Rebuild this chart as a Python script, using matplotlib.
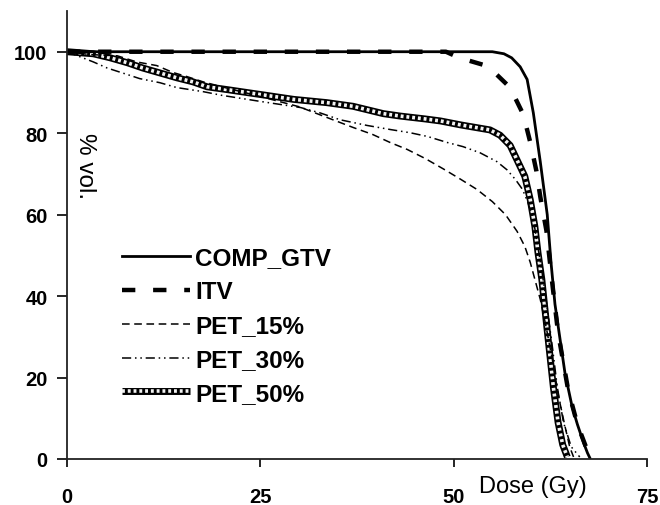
import matplotlib
matplotlib.use("Agg")
import matplotlib.pyplot as plt
from matplotlib.legend_handler import HandlerTuple

plt.rcParams['font.family'] = ['Liberation Sans', 'DejaVu Sans']

# ---- data ----
comp_dose = [0, 55, 56.5, 57.5, 58.6, 59.5, 60.3, 61.2, 62.1, 62.6, 63.1, 64.4, 65.3, 66, 66.8, 67.3, 67.6]
comp_vol = [100, 100, 99.5, 98.5, 96.3, 93.2, 85, 73, 60, 48, 38, 21, 13, 8.5, 4, 1.5, 0.3]

itv_dose = [0, 49, 50.4, 52, 53.8, 55.5, 57.3, 59, 59.9, 60.7, 61.2, 62, 62.7, 63.5, 64.8, 66, 67.1, 67.7]
itv_vol = [100, 100, 98.8, 97.8, 96.8, 94.5, 91.2, 84.6, 77.8, 70.7, 64.4, 56, 44, 31, 17, 8.5, 3, 0.3]

pet15_dose = [0, 3, 6.5, 9, 11.6, 13.7, 15.5, 17.6, 20, 25, 30, 33, 37, 39.5, 41.8, 44, 46.3, 48.6,
              50.8, 53, 55, 56.7, 58.2, 59.2, 59.9, 60.5, 61.2, 62, 62.8, 63.6, 64.4, 65.0, 65.5]
pet15_vol = [100, 99.3, 99, 97.5, 96.6, 94.9, 93.9, 92.6, 91.4, 89, 86.5, 84.3, 81.4, 79.7, 77.7, 76, 73.8, 71.3,
             68.8, 66.2, 63.2, 60, 55.9, 52.2, 48.3, 44.1, 39.2, 32, 24, 15, 8, 3, 0.5]

pet30_dose = [0, 3.4, 5.2, 7.8, 9.4, 12, 14.2, 17.6, 20, 25, 30.2, 32.7, 35.3, 38.8, 41.8, 44.4, 46.6, 49.2,
              51.2, 53.4, 55.6, 56.9, 58, 58.9, 59.6, 60.3, 60.9, 61.5, 62.1, 62.8, 63.4, 64.2, 65.2, 66.3]
pet30_vol = [100, 97.5, 96, 94.4, 93.4, 92.4, 91.2, 90.2, 89.3, 87.8, 86.3, 85, 83.3, 81.9, 80.9, 80.1, 79.2, 77.7,
             76.7, 75.2, 73, 71, 68.6, 66.2, 63, 58.8, 52, 45, 37, 27, 17.6, 9, 3, 0.5]

pet50_dose = [0, 3.4, 5.6, 7.8, 9.8, 12, 14.2, 16.3, 18.1, 20.7, 25, 29.3, 33.6, 37, 40.9, 43.1, 46.3, 48.3,
              51, 54.7, 56, 57.3, 58.3, 59.2, 59.9, 60.5, 60.9, 61.4, 61.8, 62.3, 62.9, 63.5, 64.1, 64.7]
pet50_vol = [100, 99.5, 98.5, 97.3, 96, 94.8, 93.6, 92.6, 91.4, 90.7, 89.5, 88.3, 87.5, 86.6, 84.8, 84.2, 83.5, 83,
             82, 80.8, 79.5, 77, 73, 69.4, 63.7, 57.1, 50.7, 44.1, 36.8, 28, 17.5, 9, 3.5, 0.5]

x_ticks = [0, 25, 50, 75]
y_ticks = [0, 20, 40, 60, 80, 100]
labels = ['COMP_GTV', 'ITV', 'PET_15%', 'PET_30%', 'PET_50%']

# ---- figure ----
fig = plt.figure(figsize=(6.6, 5.06), dpi=100)
ax = fig.add_axes([67/660, 46/506, 580/660, 448/506])

h50a, = ax.plot(pet50_dose, pet50_vol, color='black', lw=5.0, solid_capstyle='butt')
h50b, = ax.plot(pet50_dose, pet50_vol, color='#f2f2f2', lw=2.6, linestyle=(0, (0.8, 0.8)))
h30, = ax.plot(pet30_dose, pet30_vol, color='black', lw=1.1, linestyle=(0, (6, 2.5, 1, 2.5, 1, 2.5)))
h15, = ax.plot(pet15_dose, pet15_vol, color='black', lw=1.1, linestyle=(0, (5, 3)))
hitv, = ax.plot(itv_dose, itv_vol, color='black', lw=3.2, linestyle=(0, (3, 4)))
hcomp, = ax.plot(comp_dose, comp_vol, color='black', lw=2.0)

ax.set_xlim(0, 75)
ax.set_ylim(0, 110)
ax.set_xticks(x_ticks)
ax.set_yticks(y_ticks)
for s in ['top', 'right']:
    ax.spines[s].set_visible(False)
for s in ['left', 'bottom']:
    ax.spines[s].set_linewidth(1.3)
    ax.spines[s].set_color('#222222')
ax.tick_params(axis='y', direction='out', length=7, width=1.2, pad=7, labelsize=14.5)
ax.tick_params(axis='x', direction='out', length=6, width=1.2, pad=14, labelsize=14.5)
for lbl in ax.get_xticklabels() + ax.get_yticklabels():
    lbl.set_fontweight('bold')

ax.set_xlabel('Dose (Gy)', fontsize=17)
ax.xaxis.set_label_coords(0.803, -0.06)
ax.xaxis.label.set_va('center')
ax.set_ylabel('% vol.', fontsize=17.5, rotation=270)
ax.yaxis.set_label_coords(0.031, 0.655)
ax.yaxis.label.set_va('center')

leg = ax.legend([hcomp, hitv, h15, h30, (h50a, h50b)], labels,
                handler_map={tuple: HandlerTuple(ndivide=1, pad=0)},
                loc='upper left', bbox_to_anchor=(0.095, 0.475),
                frameon=False, borderpad=0, borderaxespad=0,
                handlelength=2.8, handletextpad=0.2, labelspacing=0.45,
                prop={'weight': 'bold', 'size': 17.5})

fig.savefig('out.png', dpi=100)
